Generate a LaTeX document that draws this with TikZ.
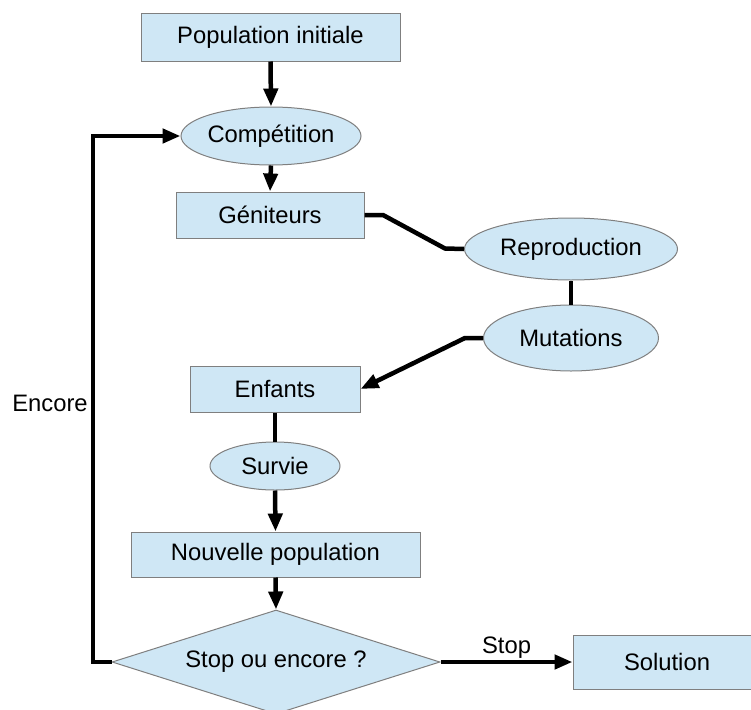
\documentclass[tikz,border=0pt]{standalone}
\usepackage{fontspec}
\setmainfont{Liberation Sans}
\usetikzlibrary{shapes.geometric,arrows.meta}
\definecolor{boxfill}{HTML}{CFE7F5}
\definecolor{boxline}{HTML}{7F7F7F}
\tikzset{
  base/.style={draw=boxline, line width=1pt, fill=boxfill, inner sep=0pt, align=center,
    font=\fontsize{23.8}{28}\selectfont},
  rbox/.style={base, rectangle},
  ebox/.style={base, ellipse},
  dbox/.style={base, diamond, aspect=3.15},
  conn/.style={line width=4.5pt, line cap=butt, line join=miter},
  arr/.style={conn, -{Triangle[length=18pt,width=14pt]}},
  lbl/.style={font=\fontsize{23.8}{28}\selectfont, inner sep=0pt}
}
\begin{document}
\begin{tikzpicture}[x=1pt,y=-1pt]
\useasboundingbox (0,0) rectangle (751,709);
\node[rbox, minimum width=259pt, minimum height=47pt] (pop) at (270.5,37.5) {Population initiale};
\node[ebox, minimum width=180pt, minimum height=58pt] (comp) at (271,136) {Compétition};
\node[rbox, minimum width=188pt, minimum height=46pt] (gen) at (270,215) {Géniteurs};
\node[ebox, minimum width=213pt, minimum height=62pt] (repro) at (571,249) {Reproduction};
\node[ebox, minimum width=175pt, minimum height=66pt] (mut) at (571,338) {Mutations};
\node[rbox, minimum width=170pt, minimum height=46pt] (enf) at (275,389) {Enfants};
\node[ebox, minimum width=130pt, minimum height=48pt] (surv) at (275,466) {Survie};
\node[rbox, minimum width=289pt, minimum height=45pt] (nouv) at (275.5,554.5) {Nouvelle population};
\node[dbox, minimum width=328pt, minimum height=104pt] (diam) at (276,662) {Stop ou encore ?};
\node[rbox, minimum width=188pt, minimum height=54pt] (sol) at (667,662) {Solution};
\node[lbl] (encore) at (50,403) {Encore};

\coordinate (g1) at (383,215);
\coordinate (g2) at (445,248.5);
\coordinate (m1) at (465,338);
\coordinate (l1) at (93,662);
\coordinate (l2) at (93,136);

\draw[arr] (pop.south) -- (comp.north);
\draw[arr] (comp.south) -- (gen.north);
\draw[conn] (gen.east) -- (g1) -- (g2) -- (repro.west);
\draw[conn] (repro.south) -- (mut.north);
\draw[arr] (mut.west) -- (m1) -- (enf.east);
\draw[conn] (enf.south) -- (surv.north);
\draw[arr] (surv.south) -- (nouv.north);
\draw[arr] (nouv.south) -- (diam.north);
\draw[arr] (diam.west) -- (l1) -- (l2) -- (comp.west);
\draw[arr] (diam.east) -- node[lbl, above=1pt] (stop) {Stop} (sol.west);
\end{tikzpicture}
\end{document}
